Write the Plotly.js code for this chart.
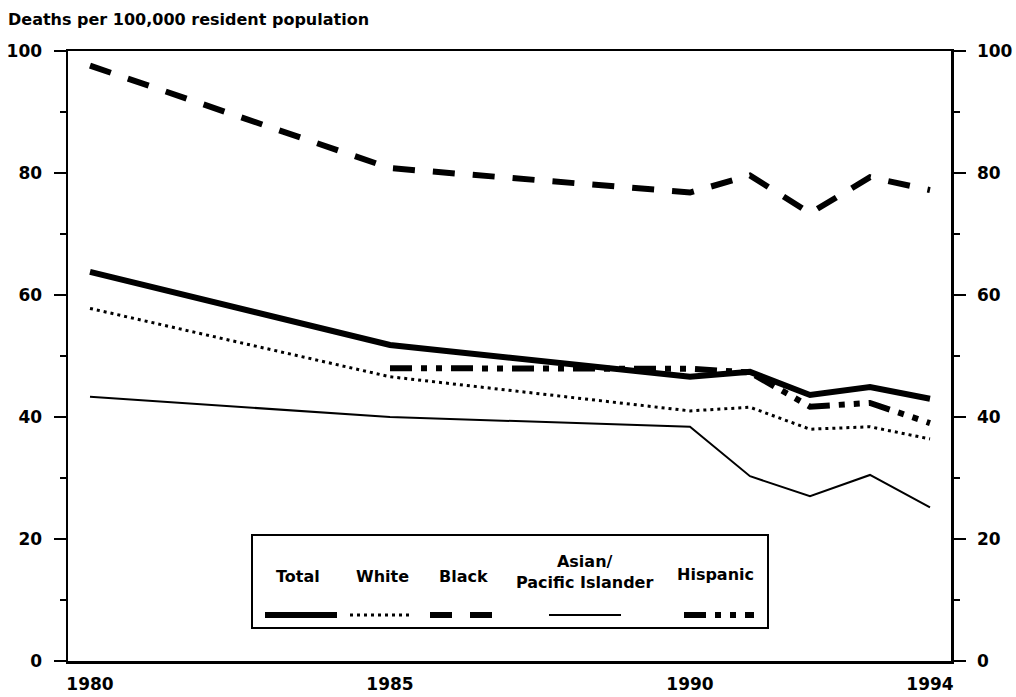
<!DOCTYPE html>
<html>
<head>
<meta charset="utf-8">
<script src="https://cdn.plot.ly/plotly-3.0.1.min.js"></script>
<style>html,body{margin:0;padding:0;background:#fff;}#chart{width:1016px;height:697px;}</style>
</head>
<body>
<div id="chart"></div>
<script>
// ---- data ----
const years = [1980, 1985, 1990, 1991, 1992, 1993, 1994];
const total = [63.8, 51.8, 46.6, 47.4, 43.6, 44.9, 43.0];
const white = [57.8, 46.6, 41.0, 41.6, 38.0, 38.4, 36.4];
const black = [97.6, 80.8, 76.8, 79.6, 73.4, 79.3, 77.2];
const asian = [43.3, 40.0, 38.4, 30.3, 27.0, 30.5, 25.2];
const hispYears = [1985, 1990, 1991, 1992, 1993, 1994];
const hispanic = [48.0, 47.9, 47.3, 41.7, 42.3, 39.0];
const xTicks = [1980, 1985, 1990, 1994];
const yTicks = [0, 20, 40, 60, 80, 100];
const legendNames = ['Total', 'White', 'Black', 'Asian/<br>Pacific Islander', 'Hispanic'];
const titleText = 'Deaths per 100,000 resident population';

// ---- styles ----
const FONT = 'DejaVu Sans, Arial, sans-serif';
const styles = {
  Total:    {width: 6, dash: 'solid'},
  White:    {width: 3, dash: '3px,4px'},
  Black:    {width: 6, dash: '22px,18px'},
  Asian:    {width: 2, dash: 'solid'},
  Hispanic: {width: 6, dash: '22px,9px,6px,9px,6px,9px'}
};

const traces = [
  {x: years, y: asian, name: 'Asian', mode: 'lines', line: {color: '#000', width: styles.Asian.width, dash: styles.Asian.dash}},
  {x: years, y: white, name: 'White', mode: 'lines', line: {color: '#000', width: styles.White.width, dash: styles.White.dash}},
  {x: years, y: black, name: 'Black', mode: 'lines', line: {color: '#000', width: styles.Black.width, dash: styles.Black.dash}},
  {x: years, y: total, name: 'Total', mode: 'lines', line: {color: '#000', width: styles.Total.width, dash: styles.Total.dash}},
  {x: hispYears, y: hispanic, name: 'Hispanic', mode: 'lines', yaxis: 'y2', line: {color: '#000', width: styles.Hispanic.width, dash: styles.Hispanic.dash}}
];

// plot area in pixels
const L = 68, R = 951, T = 51, B = 661;
const W = 1016, H = 697;
const px = v => (v - L) / (R - L);
const py = v => (B - v) / (B - T);

const tickFont = {family: FONT, size: 17, color: '#000', weight: 'bold'};
const yCommon = {
  range: [0, 100], tickvals: yTicks, ticktext: yTicks.map(String),
  ticks: 'outside', ticklen: 12, tickwidth: 2, tickcolor: '#000',
  ticklabelstandoff: 8,
  minor: {dtick: 10, ticks: 'outside', ticklen: 6, tickwidth: 1.5, tickcolor: '#000', showgrid: false},
  showline: true, linecolor: '#000', linewidth: 2.5, showgrid: false, zeroline: false,
  tickfont: tickFont, fixedrange: true
};

// custom legend (box, labels, samples)
const shapes = [
  {type: 'rect', xref: 'paper', yref: 'paper', x0: px(252), x1: px(768), y0: py(535), y1: py(628),
   line: {color: '#000', width: 2}, fillcolor: '#fff', layer: 'above'}
];
const sampleY = py(615);
const samples = [
  ['Total', 265, 337], ['White', 350, 413], ['Black', 430, 492], ['Asian', 549, 621], ['Hispanic', 684, 754]
];
samples.forEach(([k, a, b]) => {
  shapes.push({type: 'line', xref: 'paper', yref: 'paper', x0: px(a), x1: px(b), y0: sampleY, y1: sampleY,
    line: {color: '#000', width: styles[k].width, dash: styles[k].dash}, layer: 'above'});
});
const labelPos = [[298, 576], [382, 576], [463, 576], [584, 572], [715, 574]];
const annotations = legendNames.map((t, i) => ({
  text: t, xref: 'paper', yref: 'paper', x: px(labelPos[i][0]), y: py(labelPos[i][1]),
  xanchor: 'center', yanchor: 'middle', showarrow: false, align: 'center',
  font: {family: FONT, size: 16, color: '#000', weight: 'bold'}
}));
annotations.push({
  text: titleText, xref: 'paper', yref: 'paper', x: px(6), y: py(20),
  xanchor: 'left', yanchor: 'middle', showarrow: false,
  font: {family: FONT, size: 16, color: '#000', weight: 'bold'}
});

const layout = {
  width: W, height: H,
  margin: {l: L, r: W - R, t: T, b: H - B, pad: 0},
  paper_bgcolor: '#fff', plot_bgcolor: '#fff',
  showlegend: false,
  xaxis: {
    range: [1980 - 22 / 60, 1994 + 21 / 60], tickvals: xTicks, ticktext: xTicks.map(String),
    ticks: '', ticklabelstandoff: 6, showline: true, mirror: true, linecolor: '#000', linewidth: 2.5,
    showgrid: false, zeroline: false, tickfont: tickFont, fixedrange: true
  },
  yaxis: Object.assign({}, yCommon, {side: 'left'}),
  yaxis2: Object.assign({}, yCommon, {side: 'right', overlaying: 'y', anchor: 'x'}),
  shapes: shapes,
  annotations: annotations
};

Plotly.newPlot('chart', traces, layout, {staticPlot: true, displayModeBar: false});
</script>
</body>
</html>
